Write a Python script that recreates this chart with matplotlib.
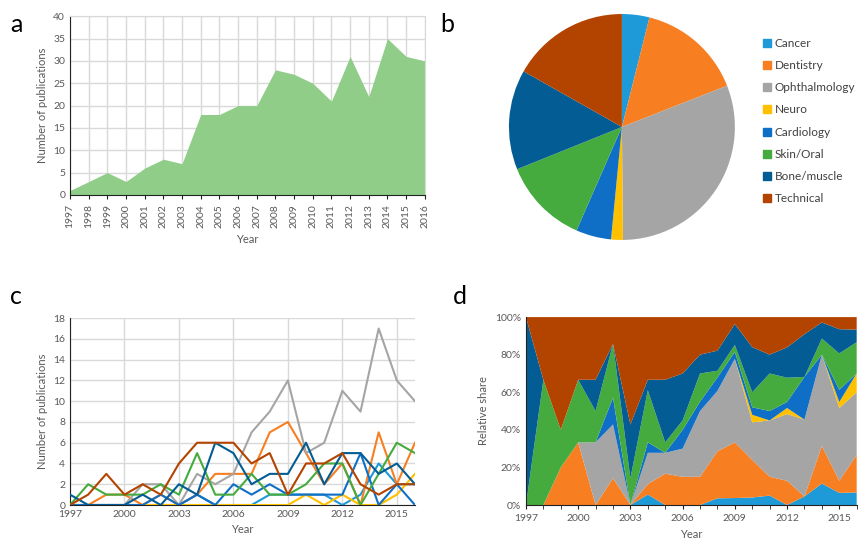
"""
Publications per year by field: total, share by field, yearly counts and relative share.
"""
import numpy as np
import matplotlib
matplotlib.use("Agg")
import matplotlib.pyplot as plt
import matplotlib.ticker as mticker
from matplotlib.lines import Line2D

plt.rcParams["font.family"] = ["Lato", "DejaVu Sans"]

# ── Data ──────────────────────────────────────────────────────
years = list(range(1997, 2017))
total = [1, 3, 5, 3, 6, 8, 7, 18, 18, 20, 20, 28, 27, 25, 21, 31, 22, 35, 31, 30]

fields = ["Cancer", "Dentistry", "Ophthalmology", "Neuro",
          "Cardiology", "Skin/Oral", "Bone/muscle", "Technical"]
cancer     = [0, 0, 0, 0, 0, 0, 0, 1, 0, 0, 0, 1, 1, 1, 1, 0, 1, 4, 2, 2]
dentistry  = [0, 0, 1, 1, 0, 1, 0, 1, 3, 3, 3, 7, 8, 5, 2, 4, 0, 7, 2, 6]
ophthalm   = [0, 0, 0, 0, 2, 2, 0, 3, 2, 3, 7, 9, 12, 5, 6, 11, 9, 17, 12, 10]
neuro      = [0, 0, 0, 0, 0, 0, 0, 0, 0, 0, 0, 0, 0, 1, 0, 1, 0, 0, 1, 3]
cardiology = [0, 0, 0, 0, 0, 1, 0, 1, 0, 2, 1, 2, 1, 1, 1, 1, 5, 0, 2, 0]
skin_oral  = [0, 2, 1, 1, 1, 2, 1, 5, 1, 1, 3, 1, 1, 2, 4, 4, 0, 3, 6, 5]
bone       = [1, 0, 0, 0, 1, 0, 2, 1, 6, 5, 2, 3, 3, 6, 2, 5, 5, 3, 4, 2]
technical  = [0, 1, 3, 1, 2, 1, 4, 6, 6, 6, 4, 5, 1, 4, 4, 5, 2, 1, 2, 2]

series = [cancer, dentistry, ophthalm, neuro, cardiology, skin_oral, bone, technical]
colors = ["#1E9AD8", "#F77F22", "#A5A5A5", "#FFC000",
          "#0F6FC6", "#45AB3E", "#035C93", "#B34400"]

TXT = "#595959"
GRID = "#D9D9D9"

fig = plt.figure(figsize=(8.59, 5.40), dpi=100)


def style_axis(ax):
    for s in ["top", "right"]:
        ax.spines[s].set_visible(False)
    ax.spines["left"].set_color("#222222")
    ax.spines["bottom"].set_color("#222222")
    ax.tick_params(colors=TXT, labelsize=7.5, length=0)
    ax.yaxis.label.set_color(TXT)
    ax.xaxis.label.set_color(TXT)


# ── a: total publications ─────────────────────────────────────
ax_a = fig.add_axes([0.0815, 0.639, 0.413, 0.331])
ax_a.fill_between(years, total, color="#90CD88", lw=0, zorder=2)
ax_a.set_xlim(1997, 2016)
ax_a.set_ylim(0, 40)
ax_a.set_xticks(years)
ax_a.set_xticklabels([str(y) for y in years], rotation=90)
ax_a.set_yticks(range(0, 41, 5))
ax_a.grid(True, color=GRID, lw=1, zorder=0)
style_axis(ax_a)
ax_a.tick_params(axis="x", length=3, color="#222222")
ax_a.set_ylabel("Number of publications", fontsize=8)
ax_a.set_xlabel("Year", fontsize=8)
for s in ["top", "right"]:
    ax_a.spines[s].set_visible(True)
    ax_a.spines[s].set_color(GRID)
fig.text(0.012, 0.955, "a", fontsize=18, va="center")

# ── b: share by field ─────────────────────────────────────────
ax_b = fig.add_axes([0.5925, 0.5556, 0.263, 0.4185])
sums = [sum(s) for s in series]
ax_b.pie(sums, colors=colors, startangle=90, counterclock=False,
         wedgeprops=dict(lw=0))
ax_b.set_xlim(-1, 1)
ax_b.set_ylim(-1, 1)
ax_b.set_aspect("equal")
handles = [Line2D([], [], marker="s", ls="", color=c, markersize=5.5) for c in colors]
fig.legend(handles, fields, loc="upper left", bbox_to_anchor=(0.885, 0.93),
           frameon=False, fontsize=8.5, labelcolor="#404040",
           handletextpad=0.05, handlelength=1.2, labelspacing=0.95,
           borderaxespad=0, borderpad=0)
fig.text(0.513, 0.955, "b", fontsize=18, va="center")

# ── c: publications per field ─────────────────────────────────
ax_c = fig.add_axes([0.0815, 0.0648, 0.4016, 0.346])
for s, c in zip(series, colors):
    ax_c.plot(years, s, color=c, lw=1.5, zorder=3)
ax_c.set_xlim(1997, 2016)
ax_c.set_ylim(0, 18)
ax_c.set_yticks(range(0, 19, 2))
ax_c.set_xticks(range(1997, 2017, 3))
ax_c.grid(True, color=GRID, lw=1, zorder=0)
style_axis(ax_c)
ax_c.set_ylabel("Number of publications", fontsize=8)
ax_c.set_xlabel("Year", fontsize=8)
fig.text(0.012, 0.45, "c", fontsize=18, va="center")

# ── d: relative share ─────────────────────────────────────────
ax_d = fig.add_axes([0.6123, 0.0648, 0.385, 0.348])
arr = np.array(series, dtype=float)
share = arr / arr.sum(axis=0)
ax_d.stackplot(years, share, colors=colors, lw=0)
ax_d.set_xlim(1997, 2016)
ax_d.set_ylim(0, 1)
ax_d.set_yticks(np.arange(0, 1.01, 0.2))
ax_d.yaxis.set_major_formatter(mticker.PercentFormatter(1.0, decimals=0))
ax_d.set_xticks(range(1997, 2017, 3))
ax_d.set_xticks(years, minor=True)
style_axis(ax_d)
ax_d.tick_params(axis="x", which="both", length=3, color="#222222")
ax_d.set_ylabel("Relative share", fontsize=8)
ax_d.set_xlabel("Year", fontsize=8)
fig.text(0.527, 0.45, "d", fontsize=18, va="center")

plt.savefig("out.png", dpi=100)
plt.close()
